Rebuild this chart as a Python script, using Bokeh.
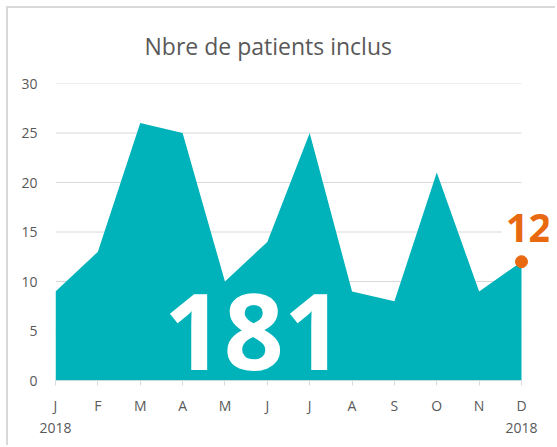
from bokeh.plotting import figure
from bokeh.models import Range1d, FixedTicker, Title, Label
from bokeh.core.properties import value
from bokeh.embed import file_html
from bokeh.resources import INLINE

months = ["J", "F", "M", "A", "M", "J", "J", "A", "S", "O", "N", "D"]
year_label = "2018"
patients = [9, 13, 26, 25, 10, 14, 25, 9, 8, 21, 9, 12]
y_ticks = [0, 5, 10, 15, 20, 25, 30]
title_text = "Nbre de patients inclus"

xs = list(range(len(months)))
last = len(months) - 1
total = sum(patients)

TEAL = "#00B2B9"
ORANGE = "#E8690F"
GRAY = "#595959"
GRID = "#D9D9D9"
FONT = "Open Sans"

p = figure(width=549, height=439, output_backend="svg", toolbar_location=None,
           x_range=Range1d(0, last * 493 / 466), y_range=Range1d(0, 30),
           min_border_left=47, min_border_right=9, min_border_top=75,
           min_border_bottom=67, outline_line_color=None,
           styles={"border-top": "2px solid #D9D9D9", "border-left": "2px solid #D9D9D9",
                   "margin-top": "6px", "margin-left": "6px"})

t = Title(text=title_text, align="left", vertical_align="top", text_font=FONT,
          text_font_size="23px", text_font_style="normal", text_color=GRAY,
          standoff=40, offset=89)
p.add_layout(t, "above")

# gridlines (only across the data span)
p.segment(x0=[0] * len(y_ticks), x1=[last] * len(y_ticks), y0=y_ticks, y1=y_ticks,
          line_color=GRID, line_width=1)

p.varea(x=xs, y1=0, y2=patients, color=TEAL)
p.segment(x0=[0], x1=[last], y0=[0], y1=[0], line_color=GRID, line_width=1)
p.scatter(x=[xs[-1]], y=[patients[-1]], size=12, color=ORANGE)

last_lbl = Label(x=xs[-1], y=patients[-1], text=str(patients[-1]), x_offset=7, y_offset=34,
                 text_font=FONT, text_font_size="40px", text_font_style="bold",
                 text_color=ORANGE, text_align="center", text_baseline="alphabetic",
                 background_fill_color="white", padding=4)
p.add_layout(last_lbl)

total_lbl = Label(x=4.68, y=4.9, text=str(total), text_font=FONT,
                  text_font_size="105px", text_font_style="bold", text_color="white",
                  text_align="center", text_baseline="alphabetic")
p.add_layout(total_lbl)

# axes
p.xaxis.ticker = FixedTicker(ticks=xs)
overrides = {i: m for i, m in zip(xs, months)}
overrides[0] = months[0] + "\n" + year_label
overrides[last] = months[-1] + "\n" + year_label
p.xaxis.major_label_overrides = overrides
p.xaxis.axis_line_color = None
p.xaxis.major_tick_line_color = GRID
p.xaxis.major_tick_in = 0
p.xaxis.major_tick_out = 5
p.xaxis.minor_tick_line_color = None
p.xaxis.major_label_text_font = FONT
p.xaxis.major_label_text_font_size = "14px"
p.xaxis.major_label_text_color = GRAY
p.xaxis.major_label_standoff = 10

p.yaxis.ticker = FixedTicker(ticks=y_ticks)
p.yaxis.axis_line_color = None
p.yaxis.major_tick_line_color = None
p.yaxis.minor_tick_line_color = None
p.yaxis.major_label_text_font = FONT
p.yaxis.major_label_text_font_size = "14px"
p.yaxis.major_label_text_color = GRAY
p.yaxis.major_label_standoff = 12

p.xgrid.grid_line_color = None
p.ygrid.grid_line_color = None

open("out.html", "w").write(file_html(p, INLINE))
